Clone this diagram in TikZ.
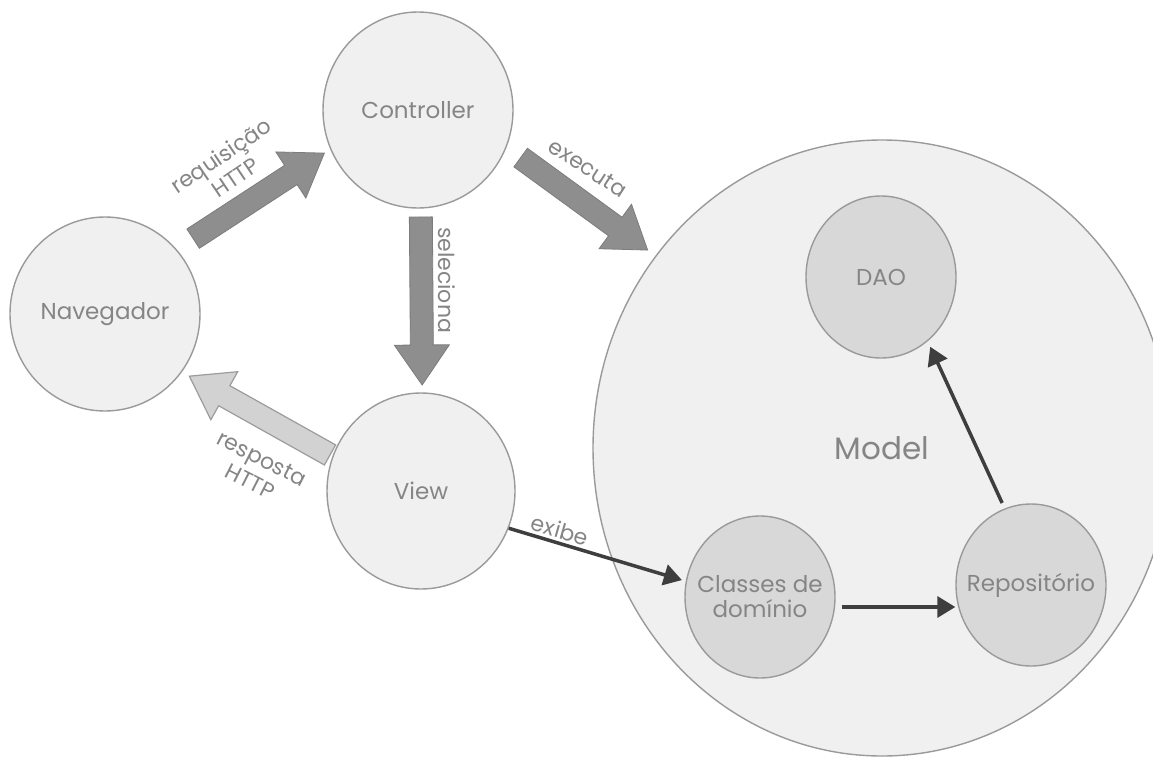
\documentclass[tikz,border=0pt]{standalone}
\usepackage{fontspec}
\setmainfont{Poppins}
\usetikzlibrary{shapes.geometric,arrows.meta,calc}

\definecolor{ringfill}{HTML}{F0F0F0}
\definecolor{partfill}{HTML}{D8D8D8}
\definecolor{ringline}{HTML}{9A9A9A}
\definecolor{txtgray}{HTML}{858585}
\definecolor{blkdark}{HTML}{8E8E8E}
\definecolor{blkdarkline}{HTML}{7C7C7C}
\definecolor{blklight}{HTML}{D2D2D2}
\definecolor{blklightline}{HTML}{9C9C9C}
\definecolor{arrowdark}{HTML}{3E3E3E}

\begin{document}
\begin{tikzpicture}[x=1pt,y=-1pt,
  every node/.style={font=\fontsize{23}{25}\selectfont, text=txtgray},
  bubble/.style={ellipse, draw=ringline, line width=1.4pt, fill=ringfill, inner sep=0pt},
  part/.style={bubble, fill=partfill},
  % wide block arrow between two nodes: {gap at start}{gap at end}{sideways offset}
  blk/.style n args={3}{to path={
    ($(\tikztostart)!#1!(\tikztotarget)!#3!90:(\tikztotarget)$) coordinate (bkS)
    ($(\tikztotarget)!#2!(\tikztostart)!#3!-90:(\tikztostart)$) coordinate (bkT)
    ($(bkS)!11.5pt!90:(bkT)$)
    -- ($(bkT)!40pt!(bkS)!11.5pt!-90:(bkS)$)
    -- ($(bkT)!40pt!(bkS)!27.5pt!-90:(bkS)$)
    -- (bkT)
    -- ($(bkT)!40pt!(bkS)!27.5pt!90:(bkS)$)
    -- ($(bkT)!40pt!(bkS)!11.5pt!90:(bkS)$)
    -- ($(bkS)!11.5pt!-90:(bkT)$) -- cycle}},
  darkblk/.style={fill=blkdark, draw=blkdarkline, line width=0.8pt, line join=miter},
  lightblk/.style={fill=blklight, draw=blklightline, line width=1.2pt, line join=miter},
  darr/.style={draw=arrowdark, line width=3.5pt, -{Triangle[length=18pt,width=21pt]}},
  tag/.style={inner sep=0pt, font=\fontsize{22}{26}\selectfont}
]
\useasboundingbox (0,0) rectangle (1153,760);
\clip (0,0) rectangle (1153,760);
\fill[white] (0,0) rectangle (1153,760);

% the model and its parts
\node[bubble, minimum width=578pt, minimum height=616pt,
      label={[font=\fontsize{31}{33}\selectfont]center:Model}] (model) at (882,448) {};
\node[part, minimum width=150pt, minimum height=162pt, label=center:DAO] (dao) at (881,277) {};
\node[part, minimum width=150pt, minimum height=162pt,
      label={[align=center]center:{Classes de\\domínio}}] (dom) at (760,597) {};
\node[part, minimum width=150pt, minimum height=162pt, label=center:Repositório] (repo) at (1031,585) {};

% browser, controller and view
\node[bubble, minimum width=190pt, minimum height=194pt, label=center:Navegador] (nav) at (105,314) {};
\node[bubble, minimum width=190pt, minimum height=196pt, label=center:Controller] (ctrl) at (418,110) {};
\node[bubble, minimum width=188pt, minimum height=196pt, label=center:View] (view) at (421,491) {};

% request / response flow
\draw[darkblk, blk={115pt}{102pt}{15pt}] (nav) to (ctrl);
\draw[darkblk, blk={111pt}{306pt}{22pt}] (ctrl) to (model);
\draw[darkblk, blk={107pt}{106pt}{2pt}] (ctrl) to (view);
\draw[lightblk, blk={97pt}{104pt}{13pt}] (view) to (nav);

\node[tag, rotate=34, align=center] (lreq) at (228,166) {requisição\\HTTP};
\node[tag, rotate=-33] (lexe) at (588,168) {executa};
\node[tag, rotate=-90] (lsel) at (447,280) {seleciona};
\node[tag, rotate=-27, align=center] (lres) at (256,470) {resposta\\HTTP};
\node[tag, rotate=-16] (lexi) at (560,530) {exibe};

% arrows inside the model
\draw[darr, shorten >=4pt] (view.-23) -- (dom.168);
\draw[darr, shorten <=6pt] ([yshift=-10pt]dom.east) -- ([yshift=-22pt]repo.west);
\draw[darr, shorten <=6pt, shorten >=6pt] (repo.109) -- (dao.-54);
\end{tikzpicture}
\end{document}
